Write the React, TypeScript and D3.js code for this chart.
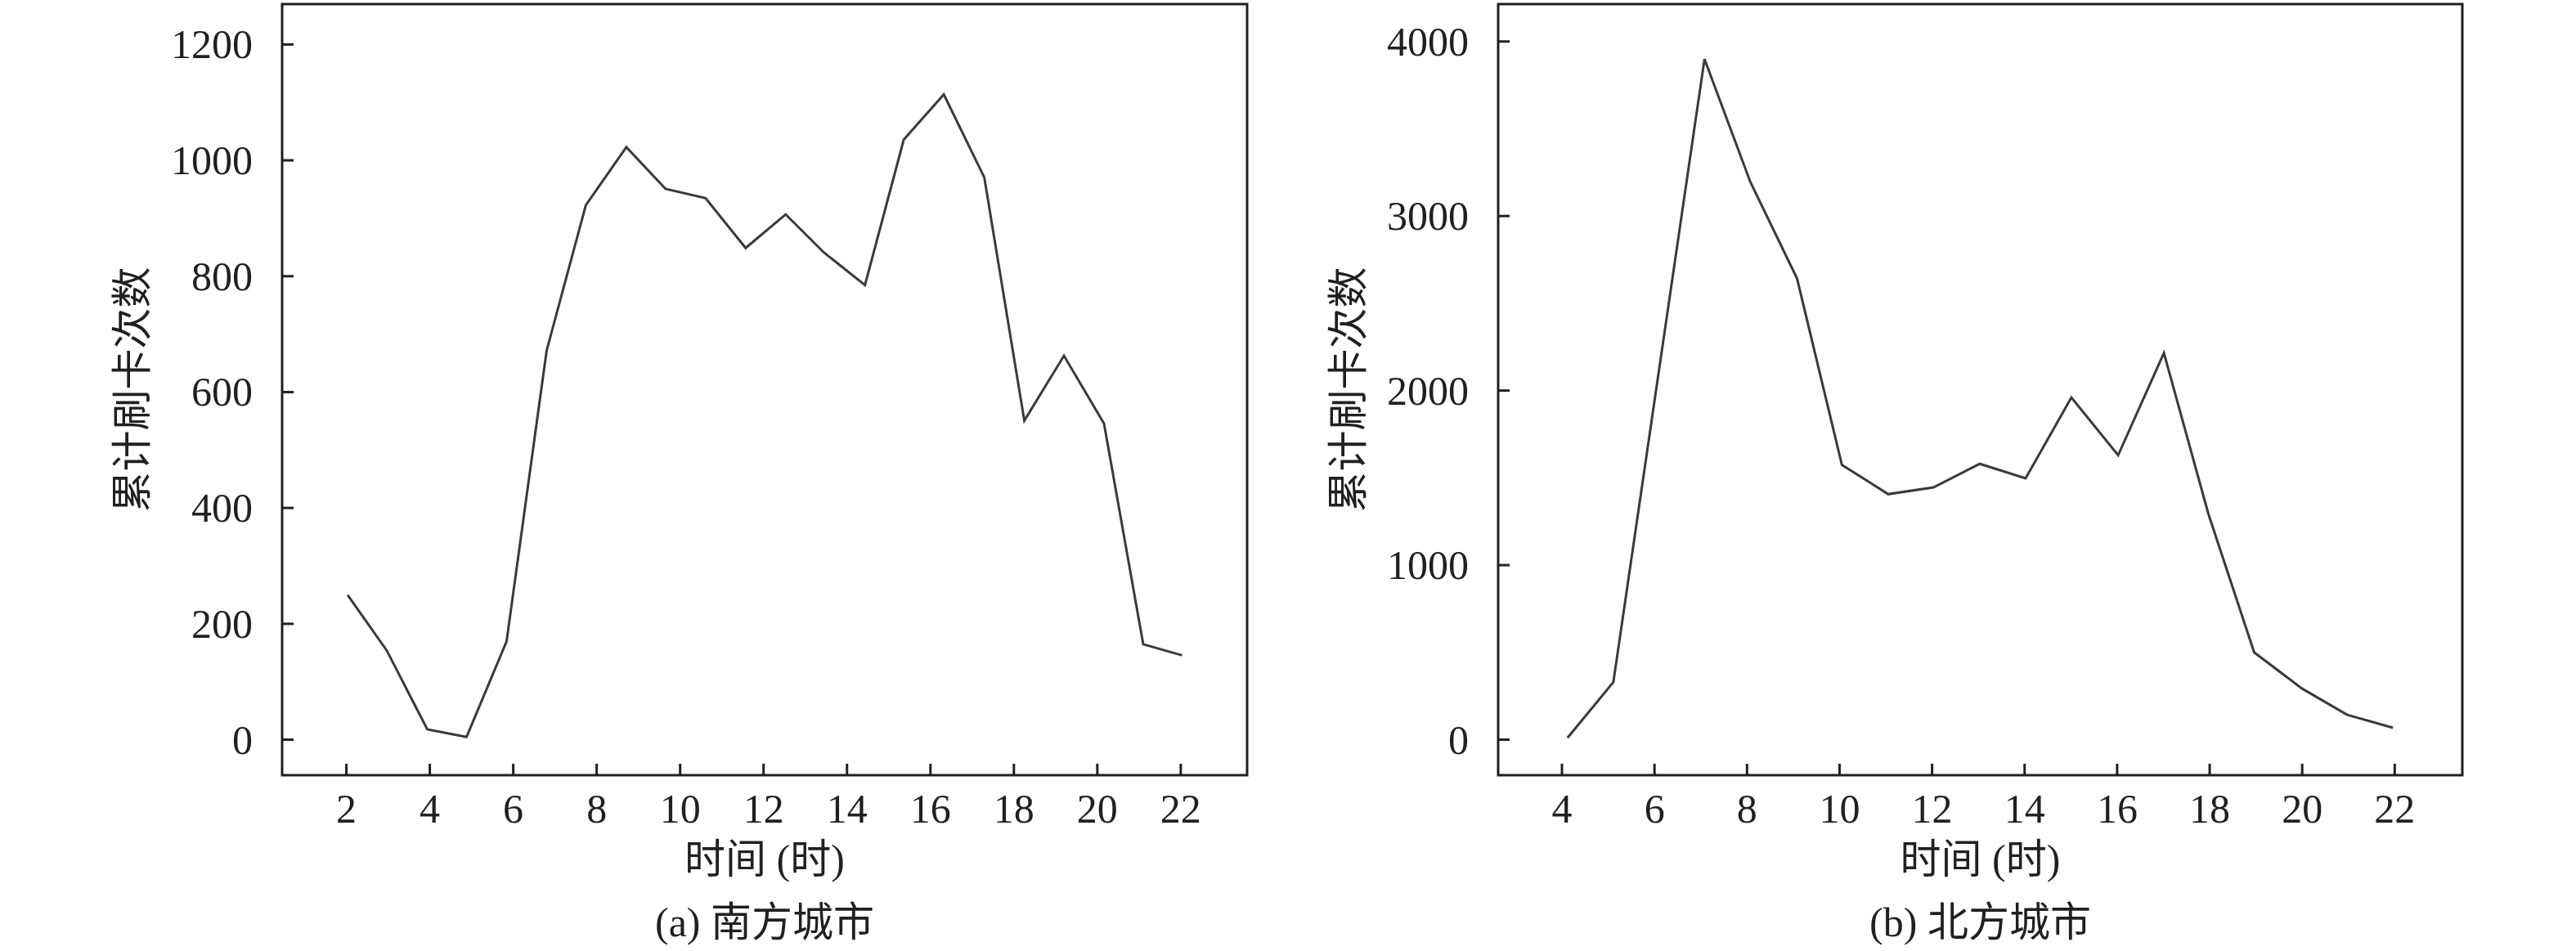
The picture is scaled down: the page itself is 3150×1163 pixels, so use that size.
import { useEffect, useRef } from "react";
import * as d3 from "d3";

// ─── Data ────────────────────────────────────────────────────────────────────
const southHours = [2.04, 2.98, 3.95, 4.89, 5.85, 6.81, 7.75, 8.72, 9.66, 10.62, 11.58, 12.54, 13.46, 14.44, 15.37, 16.33, 17.3, 18.26, 19.21, 20.17, 21.11, 22.04];
const southCounts = [249, 153, 17, 4, 169, 671, 922, 1022, 950, 934, 848, 906, 840, 784, 1035, 1113, 970, 550, 662, 545, 164, 145];

const northHours = [4.13, 5.12, 7.09, 8.08, 9.09, 10.06, 11.06, 12.04, 13.04, 14.03, 15.02, 16.03, 17.02, 17.98, 18.97, 20.0, 20.98, 21.97];
const northCounts = [8, 327, 3897, 3193, 2640, 1572, 1404, 1443, 1578, 1495, 1958, 1627, 2213, 1292, 498, 291, 140, 66];

const southXTicks = [2, 4, 6, 8, 10, 12, 14, 16, 18, 20, 22];
const southYTicks = [0, 200, 400, 600, 800, 1000, 1200];
const northXTicks = [4, 6, 8, 10, 12, 14, 16, 18, 20, 22];
const northYTicks = [0, 1000, 2000, 3000, 4000];

const yTitle = "累计刷卡次数";
const xTitle = "时间 (时)";
const southCaption = "(a) 南方城市";
const northCaption = "(b) 北方城市";

// ─── Layout ──────────────────────────────────────────────────────────────────
const W = 3150;
const H = 1163;
const INK = "#231f20";
const LINE = "#3a3a3a";
const FONT = "'Liberation Serif', 'Times New Roman', 'Noto Sans CJK SC', serif";
const FS = 50;
const TOP = 5;
const BOTTOM = 948;

interface PanelSpec {
  left: number;
  right: number;
  xDomain: [number, number];
  yDomain: [number, number];
  hours: number[];
  counts: number[];
  xTicks: number[];
  yTicks: number[];
  caption: string;
}

const panels: PanelSpec[] = [
  {
    left: 345,
    right: 1525,
    xDomain: [0.47, 23.6],
    yDomain: [-62, 1269],
    hours: southHours,
    counts: southCounts,
    xTicks: southXTicks,
    yTicks: southYTicks,
    caption: southCaption,
  },
  {
    left: 1832,
    right: 3011,
    xDomain: [2.63, 23.47],
    yDomain: [-206, 4212],
    hours: northHours,
    counts: northCounts,
    xTicks: northXTicks,
    yTicks: northYTicks,
    caption: northCaption,
  },
];

export default function App() {
  const svgRef = useRef<SVGSVGElement>(null);

  useEffect(() => {
    if (!svgRef.current) return;
    const svg = d3.select(svgRef.current);
    svg.selectAll("*").remove();

    svg.append("rect").attr("width", W).attr("height", H).attr("fill", "#fff");

    panels.forEach((p) => {
      const x = d3.scaleLinear().domain(p.xDomain).range([p.left, p.right]);
      const y = d3.scaleLinear().domain(p.yDomain).range([BOTTOM, TOP]);
      const g = svg.append("g");

      // ── Series line ────────────────────────────────────────────────────
      const pts = p.hours.map((h, i) => [h, p.counts[i]] as [number, number]);
      const line = d3
        .line<[number, number]>()
        .x((d) => x(d[0]))
        .y((d) => y(d[1]));
      g.append("path")
        .attr("d", line(pts))
        .attr("fill", "none")
        .attr("stroke", LINE)
        .attr("stroke-width", 3)
        .attr("stroke-linejoin", "miter");

      // ── Axes (inward ticks, labels outside) ────────────────────────────
      const yAxis = g
        .append("g")
        .attr("transform", `translate(${p.left},0)`)
        .call(
          d3
            .axisLeft(y)
            .tickValues(p.yTicks)
            .tickSize(-14)
            .tickPadding(36)
            .tickFormat(d3.format("d"))
        );
      const xAxis = g
        .append("g")
        .attr("transform", `translate(0,${BOTTOM})`)
        .call(
          d3
            .axisBottom(x)
            .tickValues(p.xTicks)
            .tickSize(-14)
            .tickPadding(22)
            .tickFormat(d3.format("d"))
        );
      [yAxis, xAxis].forEach((a) => {
        a.select(".domain").remove();
        a.attr("font-family", FONT).attr("font-size", FS);
        a.selectAll("line").attr("stroke", INK).attr("stroke-width", 3);
        a.selectAll("text").attr("fill", INK);
      });
      yAxis.selectAll("text").attr("dy", "0.34em");
      xAxis.selectAll("text").attr("dy", "0.71em");

      // ── Frame ──────────────────────────────────────────────────────────
      g.append("rect")
        .attr("x", p.left)
        .attr("y", TOP)
        .attr("width", p.right - p.left)
        .attr("height", BOTTOM - TOP)
        .attr("fill", "none")
        .attr("stroke", INK)
        .attr("stroke-width", 3);

      // ── Titles ─────────────────────────────────────────────────────────
      const cx = (p.left + p.right) / 2;
      g.append("text")
        .attr("transform", `translate(${p.left - 183},${(TOP + BOTTOM) / 2}) rotate(-90)`)
        .attr("text-anchor", "middle")
        .attr("dominant-baseline", "central")
        .attr("font-family", FONT)
        .attr("font-size", FS)
        .attr("fill", INK)
        .text(yTitle);
      g.append("text")
        .attr("x", cx)
        .attr("y", 1068)
        .attr("text-anchor", "middle")
        .attr("font-family", FONT)
        .attr("font-size", FS)
        .attr("fill", INK)
        .text(xTitle);
      g.append("text")
        .attr("x", cx)
        .attr("y", 1145)
        .attr("text-anchor", "middle")
        .attr("font-family", FONT)
        .attr("font-size", FS)
        .attr("fill", INK)
        .text(p.caption);
    });
  }, []);

  return (
    <div style={{ position: "absolute", left: 0, top: 0 }}>
      <svg ref={svgRef} width={W} height={H} viewBox={`0 0 ${W} ${H}`} style={{ display: "block" }} />
    </div>
  );
}
